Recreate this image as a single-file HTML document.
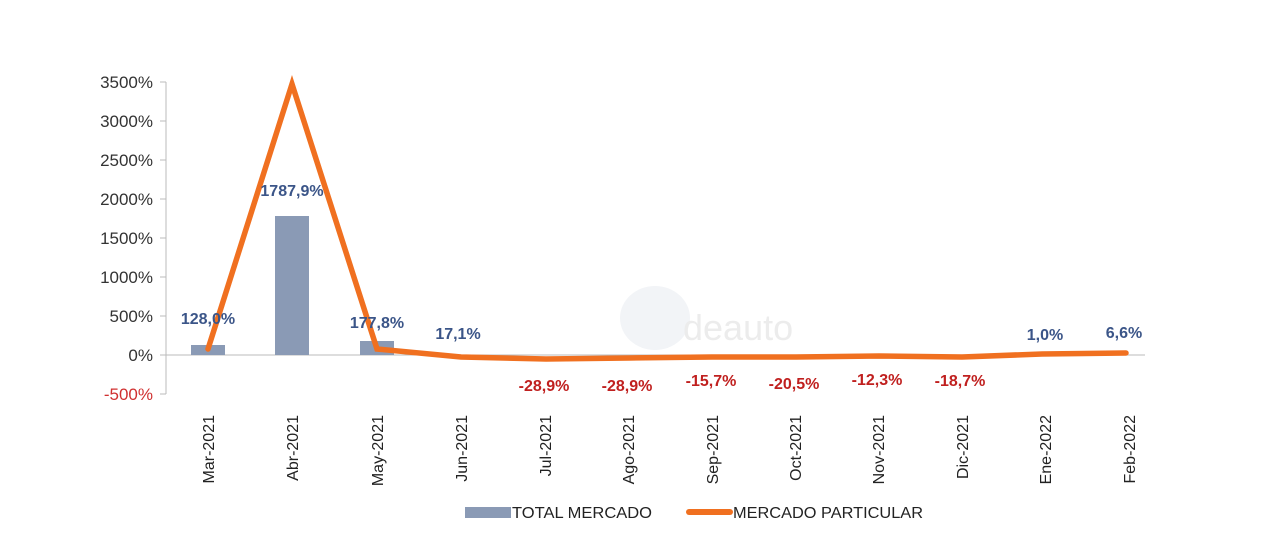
<!DOCTYPE html>
<html><head><meta charset="utf-8"><style>
body{margin:0;background:#fff;}
svg{display:block;font-family:"Liberation Sans",sans-serif;}
</style></head><body>
<svg width="1280" height="544" viewBox="0 0 1280 544">
<g font-size="17" fill="#333" text-anchor="end">
<text x="153" y="88">3500%</text>
<text x="153" y="127">3000%</text>
<text x="153" y="166">2500%</text>
<text x="153" y="205">2000%</text>
<text x="153" y="244">1500%</text>
<text x="153" y="283">1000%</text>
<text x="153" y="322">500%</text>
<text x="153" y="361">0%</text>
<text x="153" y="400" fill="#d03030">-500%</text>
</g>
<g stroke="#bbb" stroke-width="1">
<line x1="166" y1="82" x2="166" y2="394"/>
<line x1="160" y1="82" x2="166" y2="82"/><line x1="160" y1="121" x2="166" y2="121"/>
<line x1="160" y1="160" x2="166" y2="160"/><line x1="160" y1="199" x2="166" y2="199"/>
<line x1="160" y1="238" x2="166" y2="238"/><line x1="160" y1="277" x2="166" y2="277"/>
<line x1="160" y1="316" x2="166" y2="316"/><line x1="160" y1="355" x2="166" y2="355"/>
<line x1="160" y1="394" x2="166" y2="394"/>
<line x1="166" y1="355" x2="1145" y2="355"/>
</g>
<ellipse cx="655" cy="318" rx="35" ry="32" fill="#f2f4f7"/>
<text x="683" y="340" font-size="36" fill="#ececec">deauto</text>
<g fill="#8a9ab5">
<rect x="191" y="345" width="34" height="10"/>
<rect x="275" y="216" width="34" height="139"/>
<rect x="360" y="341" width="34" height="14"/>
</g>
<polyline fill="none" stroke="#f07020" stroke-width="5.5" stroke-linejoin="miter" stroke-linecap="round"
points="208,349 292,84 377,349 461,357 546,359 629,358 712,357 796,357 879,356 962,357 1042,354 1126,353"/>
<g font-size="16" font-weight="bold" text-anchor="middle" fill="#3b5588">
<text x="208" y="324">128,0%</text>
<text x="292" y="196">1787,9%</text>
<text x="377" y="328">177,8%</text>
<text x="458" y="339">17,1%</text>
<text x="1045" y="340">1,0%</text>
<text x="1124" y="338">6,6%</text>
</g>
<g font-size="16" font-weight="bold" text-anchor="middle" fill="#c0201f">
<text x="544" y="391">-28,9%</text>
<text x="627" y="391">-28,9%</text>
<text x="711" y="386">-15,7%</text>
<text x="794" y="389">-20,5%</text>
<text x="877" y="385">-12,3%</text>
<text x="960" y="386">-18,7%</text>
</g>
<g font-size="16" fill="#222" text-anchor="end">
<text transform="translate(214,415) rotate(-90)">Mar-2021</text>
<text transform="translate(298,415) rotate(-90)">Abr-2021</text>
<text transform="translate(383,415) rotate(-90)">May-2021</text>
<text transform="translate(467,415) rotate(-90)">Jun-2021</text>
<text transform="translate(551,415) rotate(-90)">Jul-2021</text>
<text transform="translate(634,415) rotate(-90)">Ago-2021</text>
<text transform="translate(718,415) rotate(-90)">Sep-2021</text>
<text transform="translate(801,415) rotate(-90)">Oct-2021</text>
<text transform="translate(884,415) rotate(-90)">Nov-2021</text>
<text transform="translate(968,415) rotate(-90)">Dic-2021</text>
<text transform="translate(1051,415) rotate(-90)">Ene-2022</text>
<text transform="translate(1135,415) rotate(-90)">Feb-2022</text>
</g>
<rect x="465" y="507" width="46" height="11" fill="#8a9ab5"/>
<text x="512" y="518" font-size="16" fill="#222" textLength="140" lengthAdjust="spacingAndGlyphs">TOTAL MERCADO</text>
<line x1="689" y1="512" x2="730" y2="512" stroke="#f07020" stroke-width="6" stroke-linecap="round"/>
<text x="733" y="518" font-size="16" fill="#222" textLength="190" lengthAdjust="spacingAndGlyphs">MERCADO PARTICULAR</text>
</svg>
</body></html>
